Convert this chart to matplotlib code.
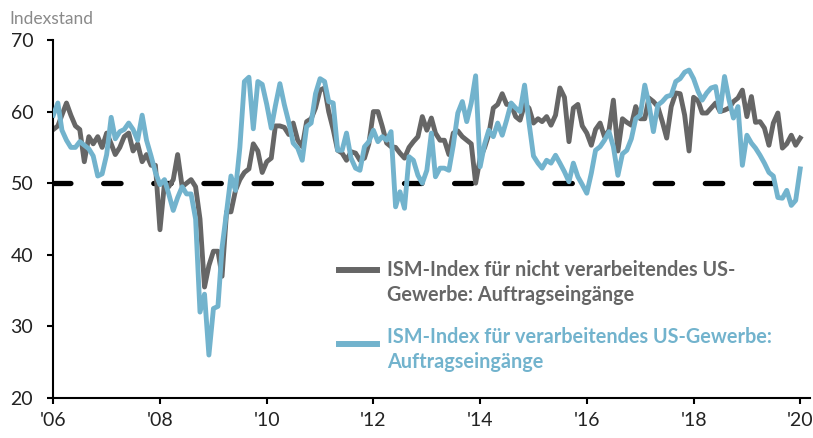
import matplotlib
matplotlib.use("Agg")
import matplotlib.pyplot as plt
from matplotlib.lines import Line2D
import numpy as np
import pandas as pd

# monthly data, Jan 2006 - Jan 2020
dates = pd.date_range("2006-01-01", "2020-01-01", freq="MS")

non_manufacturing = [
    57.5, 58.0, 59.5, 61.2, 59.5, 58.0, 57.5, 53.0, 56.5, 55.5, 56.5, 55.0,
    57.0, 55.5, 54.0, 55.0, 56.5, 57.0, 54.5, 55.5, 53.0, 54.0, 52.5, 52.5,
    43.5, 50.0, 49.5, 50.5, 54.0, 49.5, 50.0, 50.5, 49.5, 45.0, 35.5, 38.5,
    40.5, 40.5, 37.0, 46.0, 46.0, 49.0, 50.5, 51.5, 52.0, 55.5, 54.5, 51.5,
    53.0, 53.5, 58.0, 58.0, 57.8, 56.8, 58.4, 56.0, 55.1, 58.6, 59.0, 60.5,
    63.0, 63.3, 60.0, 57.5, 54.6, 54.2, 53.2, 54.4, 54.2, 53.2, 53.5, 55.5,
    60.0, 60.0, 58.0, 55.6, 55.1, 55.0, 54.2, 53.5, 55.0, 55.8, 56.5, 59.3,
    57.4, 59.1, 57.0, 56.0, 56.0, 54.0, 57.0, 57.3, 56.5, 56.0, 55.5, 50.0,
    53.5, 55.0, 56.8, 60.5, 61.0, 62.5, 61.0, 61.0, 59.3, 58.8, 61.0, 60.5,
    58.4, 59.0, 58.6, 59.3, 58.1, 59.5, 63.3, 62.0, 55.8, 60.5, 61.0, 58.0,
    57.0, 55.3, 57.5, 58.4, 56.5, 57.4, 61.6, 54.5, 59.0, 58.5, 58.1, 60.7,
    59.0, 59.0, 61.9, 61.4, 60.7, 58.6, 56.3, 60.7, 62.6, 62.5, 59.5, 54.5,
    62.0, 61.5, 59.8, 59.8, 60.5, 61.2, 60.0, 60.2, 60.5, 61.4, 61.9, 63.0,
    59.3, 62.1, 58.5, 58.6, 57.7, 55.3, 58.4, 59.8, 54.9, 55.5, 56.7, 55.3,
    56.3,
]

manufacturing = [
    59.5, 61.2, 57.4, 56.0, 55.0, 55.0, 55.8, 55.3, 54.8, 53.8, 51.0, 51.3,
    54.0, 59.2, 56.2, 57.2, 57.5, 58.4, 57.5, 56.0, 59.5, 56.0, 53.8, 51.5,
    49.8, 50.5, 48.5, 46.2, 48.0, 49.5, 48.5, 48.5, 45.0, 32.0, 34.5, 26.0,
    32.5, 32.8, 41.0, 46.0, 51.0, 49.0, 55.0, 64.2, 64.8, 57.6, 64.2, 63.8,
    61.0, 57.7, 60.8, 63.9, 61.0, 58.5, 55.6, 54.9, 53.2, 57.9, 58.4, 62.5,
    64.6, 64.2, 61.4, 61.2, 54.6, 54.6, 57.0, 53.5, 52.1, 51.8, 55.1, 55.8,
    57.4, 55.8, 56.5, 56.0, 57.2, 46.7, 48.8, 46.5, 53.7, 53.2, 51.1, 50.0,
    51.8, 57.0, 50.9, 52.1, 52.1, 51.8, 55.3, 59.8, 61.4, 58.6, 61.2, 65.0,
    52.3, 55.5, 57.4, 56.5, 58.4, 56.7, 58.8, 61.2, 60.5, 60.0, 63.7, 58.5,
    53.8, 52.8, 52.1, 53.2, 52.8, 53.9, 52.8, 51.6, 50.2, 52.8, 50.9, 49.8,
    48.6, 51.4, 54.6, 55.1, 56.0, 57.2, 55.1, 51.1, 54.1, 54.6, 56.2, 59.0,
    59.5, 63.7, 61.1, 57.2, 60.9, 61.4, 62.1, 62.3, 64.2, 64.6, 65.5, 65.8,
    64.6, 62.8, 61.6, 62.6, 63.3, 63.5, 60.0, 64.9, 61.6, 59.1, 60.7, 52.5,
    56.7, 55.6, 54.9, 53.9, 52.8, 51.5, 51.0, 48.0, 47.9, 49.0, 46.9, 47.6,
    52.0,
]

threshold = 50
tick_years = list(range(2006, 2021, 2))
tick_labels = ["'06", "'08", "'10", "'12", "'14", "'16", "'18", "'20"]

label_non = ["ISM-Index für nicht verarbeitendes US-", "Gewerbe: Auftragseingänge"]
label_man = ["ISM-Index für verarbeitendes US-Gewerbe:", "Auftragseingänge"]

gray = "#666666"
blue = "#72b3cd"

plt.rcParams["font.family"] = ["Lato", "DejaVu Sans"]

W, H = 813, 438
fig = plt.figure(figsize=(W / 100, H / 100), dpi=100)
ax = fig.add_axes([0.0656, 0.0913, 0.9307, 0.8174])

ax.plot(dates, [threshold] * len(dates), color="black", lw=3.8,
        dashes=(3.3, 6.2), dash_capstyle="round", zorder=1)
ax.plot(dates, non_manufacturing, color=gray, lw=3.5, zorder=2,
        solid_joinstyle="round")
ax.plot(dates, manufacturing, color=blue, lw=3.5, zorder=3,
        solid_joinstyle="round")

ax.set_ylim(20, 70)
ax.set_yticks([20, 30, 40, 50, 60, 70])
ax.set_xlim(pd.Timestamp("2006-01-01"), pd.Timestamp("2020-03-08"))
ax.set_xticks([pd.Timestamp(f"{y}-01-01") for y in tick_years])
ax.set_xticklabels(tick_labels)

for s in ["top", "right"]:
    ax.spines[s].set_visible(False)
for s in ["left", "bottom"]:
    ax.spines[s].set_linewidth(1.5)
ax.tick_params(axis="y", length=4.5, width=1.5, pad=10, labelsize=14,
               labelcolor="#222222")
ax.tick_params(axis="x", length=4, width=1.5, pad=6, labelsize=14,
               labelcolor="#222222")

fig.text(0.012, 0.975, "Indexstand", fontsize=12.5, color="#8a8a8a",
         va="top", ha="left")

# legend drawn by hand: handle sits on the first text line
def fx(px):
    return px / W

def fy(py):
    return 1 - py / H

for lines, color, handle_y, base_y in [(label_non, gray, 270, 276),
                                        (label_man, blue, 344, 343)]:
    fig.add_artist(Line2D([fx(339), fx(377)], [fy(handle_y), fy(handle_y)],
                          transform=fig.transFigure, color=color, lw=4.3))
    for k, line in enumerate(lines):
        fig.text(fx(387), fy(base_y + 25 * k), line, color=color,
                 fontsize=14.3, fontweight="bold", va="baseline", ha="left")

fig.savefig("out.png", dpi=100)
